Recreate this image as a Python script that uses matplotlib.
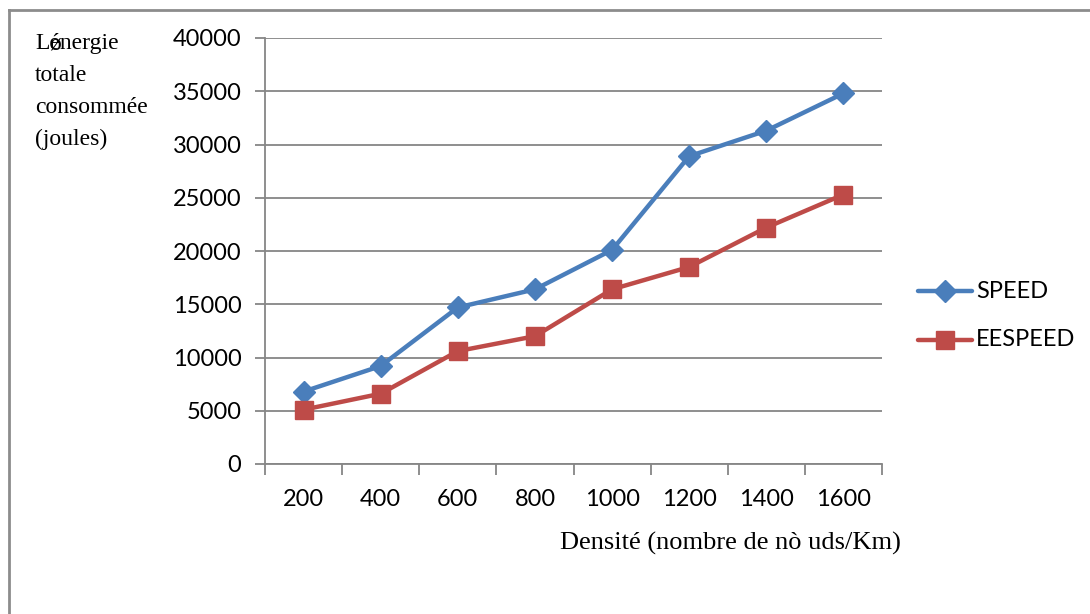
import matplotlib
matplotlib.use("Agg")
import matplotlib.pyplot as plt
from matplotlib.lines import Line2D

# Data
densities = ["200", "400", "600", "800", "1000", "1200", "1400", "1600"]
speed = [6800, 9200, 14700, 16400, 20100, 28900, 31300, 34800]
eespeed = [5100, 6600, 10600, 12000, 16400, 18500, 22200, 25300]
series_names = ["SPEED", "EESPEED"]
y_ticks = [0, 5000, 10000, 15000, 20000, 25000, 30000, 35000, 40000]

W, H = 1090, 614
fig = plt.figure(figsize=(W / 100, H / 100), dpi=100)
fig.patch.set_facecolor("white")

grey = "#868686"
blue = "#4a7ebb"
red = "#be4b48"
sans = ["Lato", "DejaVu Sans"]
serif = ["Liberation Serif", "DejaVu Serif"]
tick_fs = 17
ylab_fs = 17
xlab_fs = 19

# Chart frame (top and left edges visible)
fig.add_artist(Line2D([9 / W, 9 / W], [0, 1 - 10 / H], transform=fig.transFigure,
                      color="#8c8c8c", lw=2))
fig.add_artist(Line2D([9 / W, 1], [1 - 10 / H, 1 - 10 / H], transform=fig.transFigure,
                      color="#8c8c8c", lw=2))

left, right = 265 / W, 882 / W
bottom, top = 1 - 464 / H, 1 - 38 / H
ax = fig.add_axes([left, bottom, right - left, top - bottom])

x = list(range(len(densities)))
ax.plot(x, speed, color=blue, lw=3.2, marker="D", ms=11, mfc=blue, mec=blue,
        label=series_names[0], zorder=3)
ax.plot(x, eespeed, color=red, lw=3.2, marker="s", ms=13, mfc=red, mec=red,
        label=series_names[1], zorder=3)

ax.set_xlim(-0.5, len(densities) - 0.5)
ax.set_ylim(0, 40000)
ax.set_yticks(y_ticks)
ax.set_yticklabels([str(v) for v in y_ticks], fontsize=tick_fs, family=sans)
ax.set_xticks(x)
ax.set_xticklabels(densities, fontsize=tick_fs, family=sans)
ax.tick_params(axis="x", length=0, pad=18)
ax.tick_params(axis="y", length=7, width=1.3, color=grey, pad=10)

# category boundary ticks on the x axis
ax.set_xticks([i - 0.5 for i in range(len(densities) + 1)], minor=True)
ax.tick_params(axis="x", which="minor", length=8, width=1.3, color=grey)

ax.grid(axis="y", color=grey, lw=1.3)
ax.set_axisbelow(True)
for side in ["top", "right"]:
    ax.spines[side].set_visible(False)
for side in ["left", "bottom"]:
    ax.spines[side].set_color(grey)
    ax.spines[side].set_linewidth(1.3)

# Y axis title; the stray "ø" is printed over the "é"
ytitle_top = 1 - 33 / H
fig.text(35 / W, ytitle_top, "Lénergie\ntotale\nconsommée\n(joules)",
         family=serif, fontsize=ylab_fs, va="top", ha="left", linespacing=1.68)
renderer = fig.canvas.get_renderer()
probe = fig.text(35 / W, ytitle_top, "L", family=serif, fontsize=ylab_fs,
                 va="top", ha="left")
l_width = probe.get_window_extent(renderer).width
probe.remove()
fig.text((35 + l_width) / W, ytitle_top, "ø", family=serif, fontsize=ylab_fs,
         va="top", ha="left")

fig.text(730 / W, 1 - 543 / H, "Densité (nombre de nò uds/Km)",
         family=serif, fontsize=xlab_fs, va="center", ha="center")

# Legend
for i, (name, col, mk, ms) in enumerate([(series_names[0], blue, "D", 11),
                                          (series_names[1], red, "s", 13)]):
    yy = 1 - (291 + 49 * i) / H
    fig.add_artist(Line2D([918 / W, 972 / W], [yy, yy], transform=fig.transFigure,
                          color=col, lw=3.2, solid_capstyle="round"))
    fig.add_artist(Line2D([945 / W], [yy], transform=fig.transFigure, color=col,
                          marker=mk, ms=ms, mfc=col, mec=col, lw=0))
    fig.text(976 / W, yy, name, family=sans, fontsize=tick_fs, va="center", ha="left")

fig.savefig("out.png", dpi=100)
